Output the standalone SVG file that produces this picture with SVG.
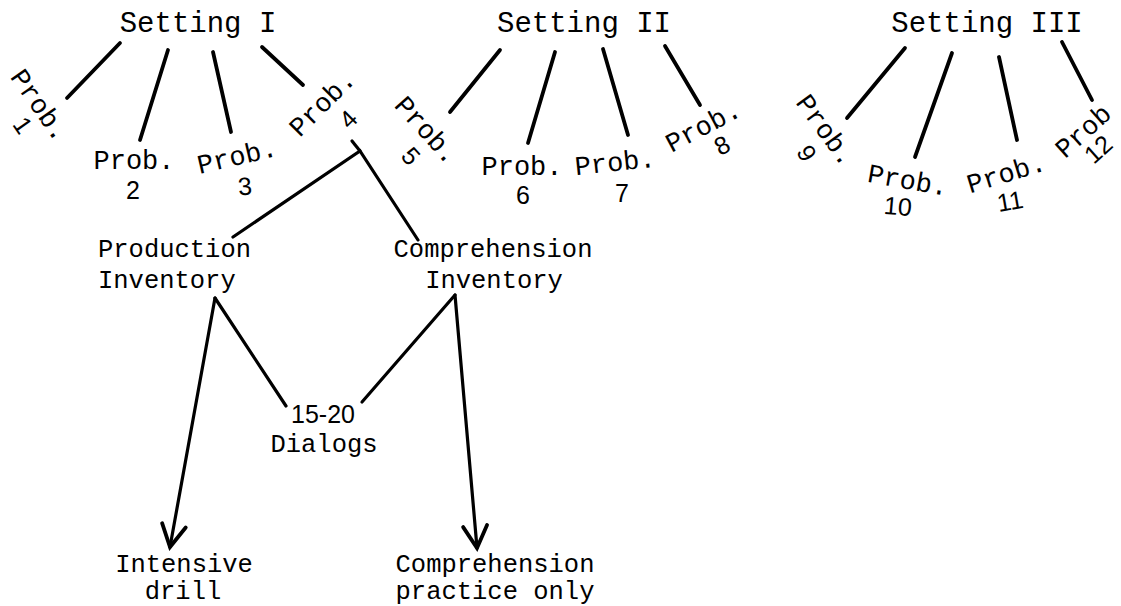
<svg xmlns="http://www.w3.org/2000/svg" width="1121" height="606" viewBox="0 0 1121 606">
<style>
  text { font-family: "Courier New", "Liberation Mono", monospace; fill: #000; }
  .set { font-size: 29px; text-anchor: middle; }
  .p { font-size: 27px; text-anchor: middle; }
  .d { font-family: "Liberation Sans", "DejaVu Sans", sans-serif; font-size: 25px; text-anchor: middle; }
  .lbl { font-size: 25.5px; text-anchor: middle; }
  .ln { stroke: #000; stroke-width: 3.8; stroke-linecap: round; fill: none; }
  .ln2 { stroke: #000; stroke-width: 3.2; stroke-linecap: round; fill: none; }
</style>
<defs>
  <marker id="arr" markerUnits="userSpaceOnUse" viewBox="-30 -20 40 40" refX="0" refY="0" markerWidth="40" markerHeight="40" orient="auto" overflow="visible">
    <path d="M -22,-12 L 0,0 L -22,12" stroke="#000" stroke-width="3.8" fill="none" stroke-linecap="round" stroke-linejoin="miter"/>
  </marker>
</defs>
<rect width="1121" height="606" fill="#fff"/>

<g id="connectors">
  <!-- Setting I -->
  <line class="ln" x1="120" y1="43" x2="67" y2="98"/>
  <line class="ln" x1="168" y1="50" x2="140" y2="140"/>
  <line class="ln" x1="213" y1="52" x2="231" y2="132"/>
  <line class="ln" x1="262" y1="47" x2="303" y2="85"/>
  <!-- Setting II -->
  <line class="ln" x1="500" y1="50" x2="450" y2="112"/>
  <line class="ln" x1="555" y1="52" x2="528" y2="143"/>
  <line class="ln" x1="603" y1="49" x2="628" y2="135"/>
  <line class="ln" x1="665" y1="46" x2="700" y2="105"/>
  <!-- Setting III -->
  <line class="ln" x1="905" y1="48" x2="847" y2="118"/>
  <line class="ln" x1="952" y1="53" x2="915" y2="157"/>
  <line class="ln" x1="999" y1="57" x2="1017" y2="140"/>
  <line class="ln" x1="1062" y1="42" x2="1092" y2="100"/>
  <!-- Prob. 4 split -->
  <polyline class="ln2" points="233,237 360,151 418,240"/>
  <line class="ln2" x1="352" y1="141" x2="360" y2="151"/>
  <!-- Production Inventory -->
  <line class="ln2" x1="215" y1="298" x2="170" y2="547" marker-end="url(#arr)"/>
  <line class="ln2" x1="215" y1="298" x2="286" y2="406"/>
  <!-- Comprehension Inventory -->
  <line class="ln2" x1="455" y1="295" x2="362" y2="402"/>
  <line class="ln2" x1="455" y1="295" x2="477" y2="548" marker-end="url(#arr)"/>
</g>

<g id="setting1"><text class="set" x="198" y="32">Setting I</text></g>
<g id="setting2"><text class="set" x="584" y="32">Setting II</text></g>
<g id="setting3"><text class="set" x="987" y="32">Setting III</text></g>

<g id="prob1">
  <text class="p" transform="translate(40,105) rotate(55)" y="9">Prob.</text>
  <text class="d" transform="translate(23,125) rotate(55)" y="9">1</text>
</g>
<g id="prob2">
  <text class="p" transform="translate(134,160)" y="9">Prob.</text>
  <text class="d" transform="translate(133,190)" y="9">2</text>
</g>
<g id="prob3">
  <text class="p" transform="translate(237,156) rotate(-13)" y="9">Prob.</text>
  <text class="d" transform="translate(245,186) rotate(-5)" y="9">3</text>
</g>
<g id="prob4">
  <text class="p" transform="translate(322,103) rotate(-45)" y="9">Prob.</text>
  <text class="d" transform="translate(348,119) rotate(-45)" y="9">4</text>
</g>
<g id="prob5">
  <text class="p" transform="translate(427,130) rotate(48)" y="9">Prob.</text>
  <text class="d" transform="translate(411,156) rotate(48)" y="9">5</text>
</g>
<g id="prob6">
  <text class="p" transform="translate(522,166)" y="9">Prob.</text>
  <text class="d" transform="translate(523,195)" y="9">6</text>
</g>
<g id="prob7">
  <text class="p" transform="translate(615,162) rotate(-6)" y="9">Prob.</text>
  <text class="d" transform="translate(622,193)" y="9">7</text>
</g>
<g id="prob8">
  <text class="p" transform="translate(703,126) rotate(-28)" y="9">Prob.</text>
  <text class="d" transform="translate(722,145) rotate(-28)" y="9">8</text>
</g>
<g id="prob9">
  <text class="p" transform="translate(826,130) rotate(54)" y="9">Prob.</text>
  <text class="d" transform="translate(807,153) rotate(60)" y="9">9</text>
</g>
<g id="prob10">
  <text class="p" transform="translate(908,180) rotate(10)" y="9">Prob.</text>
  <text class="d" transform="translate(898,206) rotate(5)" y="9">10</text>
</g>
<g id="prob11">
  <text class="p" transform="translate(1006,173) rotate(-17)" y="9">Prob.</text>
  <text class="d" transform="translate(1010,201) rotate(-10)" y="9">11</text>
</g>
<g id="prob12">
  <text class="p" transform="translate(1083,131) rotate(-42)" y="9">Prob</text>
  <text class="d" transform="translate(1098,149) rotate(-42)" y="9">12</text>
</g>

<g id="prodInv">
  <text class="lbl" style="text-anchor:start" x="98" y="257">Production</text>
  <text class="lbl" style="text-anchor:start" x="98" y="288">Inventory</text>
</g>
<g id="compInv">
  <text class="lbl" x="493" y="257">Comprehension</text>
  <text class="lbl" x="494" y="288">Inventory</text>
</g>
<g id="dialogs">
  <text class="d" x="323" y="423">15-20</text>
  <text class="lbl" x="324" y="452">Dialogs</text>
</g>
<g id="drill">
  <text class="lbl" x="184" y="572">Intensive</text>
  <text class="lbl" x="183" y="599">drill</text>
</g>
<g id="compPractice">
  <text class="lbl" x="495" y="572">Comprehension</text>
  <text class="lbl" x="495" y="599">practice only</text>
</g>
</svg>
